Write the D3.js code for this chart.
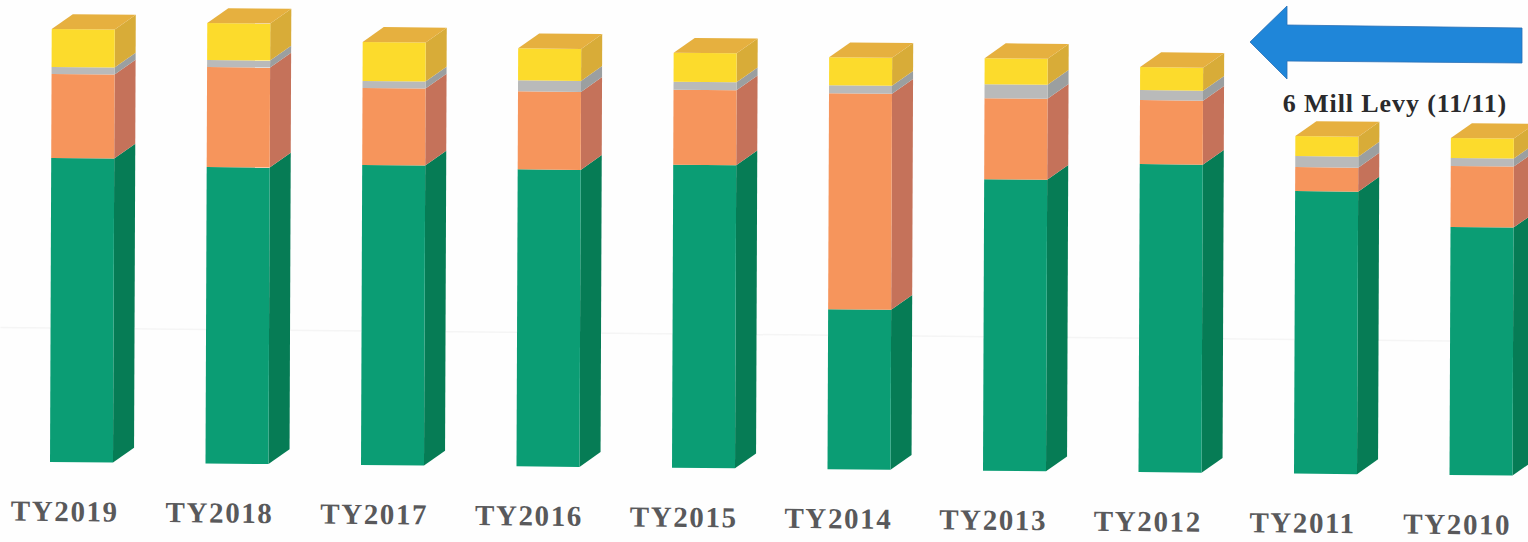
<!DOCTYPE html>
<html>
<head>
<meta charset="utf-8">
<script src="https://cdn.jsdelivr.net/npm/d3@7"></script>
<style>
  html, body { margin: 0; padding: 0; background: #fefefe; overflow: hidden; }
</style>
</head>
<body>
<div id="chart"></div>
<script>
// values, no axis in the original so units are arbitrary
const years = ["TY2019", "TY2018", "TY2017", "TY2016", "TY2015", "TY2014", "TY2013", "TY2012", "TY2011", "TY2010"];
const green = [304, 296.5, 300, 297, 303, 160, 291.5, 308, 282.5, 248];
const orange = [84, 100, 77, 78, 75, 216, 81, 64, 24, 61];
const gray = [7, 7, 7, 11, 8, 8, 14, 10, 11, 8];
const yellow = [38, 37, 39, 32, 29, 28, 26, 23, 20, 20];
const gridValues = [134];
const levyLabel = "6 Mill Levy (11/11)";

const seriesKeys = ["green", "orange", "gray", "yellow"];
const frontColors = {green: "#0b9d74", orange: "#f6955c", gray: "#b9baba", yellow: "#fcdb2c"};
const sideColors = {green: "#067c55", orange: "#c5725a", gray: "#9b9fa0", yellow: "#d8ac38"};
const topColor = "#e6b03f";

const width = 1528, height = 542;
const depthX = 21, depthY = 15;
const baseY = 462;
// the page was scanned slightly crooked
const slopeY = 0.0093, slopeX = -0.004;

const table = years.map((year, i) => ({
  year, green: green[i], orange: orange[i], gray: gray[i], yellow: yellow[i]
}));
const stacked = d3.stack().keys(seriesKeys)(table);

const x = d3.scaleBand()
  .domain(years)
  .range([50, 1512.5])
  .paddingInner(0.5949)
  .paddingOuter(0);

// labels are spaced a little tighter than the bars
const labelX = d3.scalePoint()
  .domain(years)
  .range([65, 1457.5]);

// one value unit is one pixel here
const y = d3.scaleLinear()
  .domain([0, 450])
  .range([baseY, baseY - 450]);

const svg = d3.select("#chart")
  .append("svg")
    .attr("width", width)
    .attr("height", height);

const plot = svg.append("g")
  .attr("transform", `matrix(1, ${slopeY}, ${slopeX}, 1, ${-slopeX * baseY}, ${-slopeY * 50})`);

// faint gridlines
plot.selectAll(".grid")
  .data(gridValues)
  .join("line")
    .attr("class", "grid")
    .attr("x1", 0)
    .attr("x2", width)
    .attr("y1", d => y(d))
    .attr("y2", d => y(d))
    .attr("stroke", "#f5f5f5")
    .attr("stroke-width", 1.5);

// each segment: side face first, then front
stacked.forEach(layer => {
  const g = plot.append("g").attr("class", "series-" + layer.key);

  g.selectAll("path")
    .data(layer)
    .join("path")
      .attr("fill", sideColors[layer.key])
      .attr("d", d => {
        const r = x(d.data.year) + x.bandwidth();
        return `M${r},${y(d[0])}L${r + depthX},${y(d[0]) - depthY}L${r + depthX},${y(d[1]) - depthY}L${r},${y(d[1])}Z`;
      });

  g.selectAll("rect")
    .data(layer)
    .join("rect")
      .attr("fill", frontColors[layer.key])
      .attr("x", d => x(d.data.year))
      .attr("y", d => y(d[1]))
      .attr("width", x.bandwidth())
      .attr("height", d => y(d[0]) - y(d[1]));
});

// cap on top of every bar
plot.append("g").selectAll("path")
  .data(stacked[stacked.length - 1])
  .join("path")
    .attr("fill", topColor)
    .attr("d", d => {
      const l = x(d.data.year), r = l + x.bandwidth(), t = y(d[1]);
      return `M${l},${t}L${l + depthX},${t - depthY}L${r + depthX},${t - depthY}L${r},${t}Z`;
    });

// category labels sit left of the bar centre
plot.append("g").selectAll("text")
  .data(years)
  .join("text")
    .attr("x", d => labelX(d))
    .attr("y", 521)
    .attr("text-anchor", "middle")
    .attr("font-family", "'Liberation Serif', serif")
    .attr("font-weight", "bold")
    .attr("font-size", 29)
    .attr("letter-spacing", 1.6)
    .attr("fill", "#59595b")
    .text(d => d);

// arrow and label for the levy
svg.append("path")
  .attr("fill", "#1f86d9")
  .attr("stroke", "#2a6fb5")
  .attr("stroke-width", 0.8)
  .attr("d", d3.line()([[1250, 42], [1287, 6], [1287, 25], [1522, 28], [1522, 63], [1287, 61], [1287, 79]]) + "Z");

svg.append("text")
  .attr("x", 1395)
  .attr("y", 112)
  .attr("text-anchor", "middle")
  .attr("font-family", "'Liberation Serif', serif")
  .attr("font-weight", "bold")
  .attr("font-size", 26)
  .attr("letter-spacing", 0.9)
  .attr("fill", "#2a2a2c")
  .text(levyLabel);
</script>
</body>
</html>
